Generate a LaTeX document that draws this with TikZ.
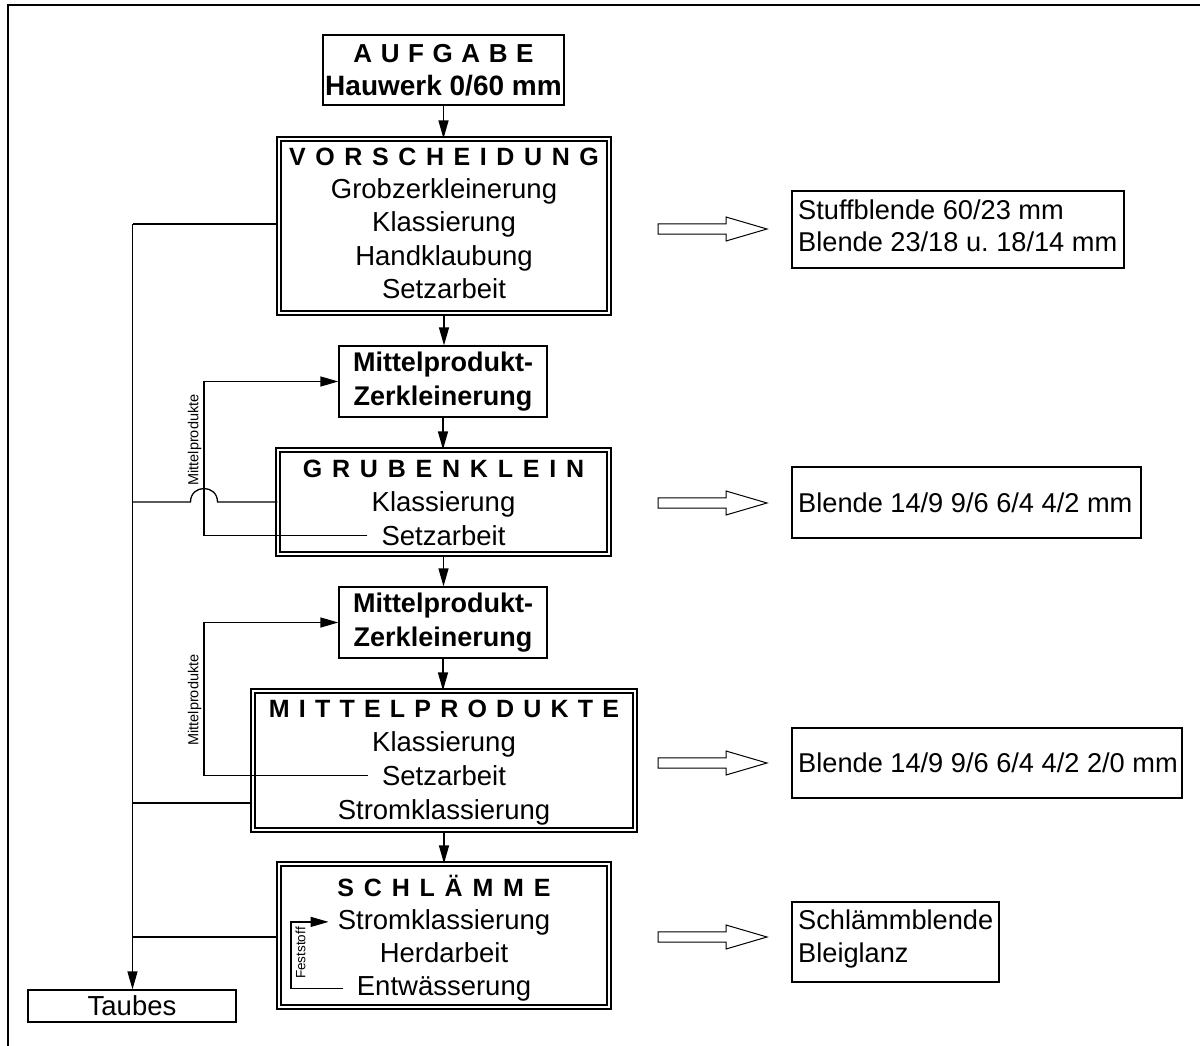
\documentclass[tikz,border=0pt]{standalone}
\usepackage{fontspec}
\setmainfont{Liberation Sans}
\usetikzlibrary{arrows.meta}
\newdimen\lspgap \lspgap=9.4pt
\def\lsp#1{\lspA#1\relax}
\def\lspA#1#2{#1\ifx\relax#2\else\kern\lspgap\expandafter\lspA\expandafter#2\fi}
\frenchspacing
\begin{document}
\begin{tikzpicture}[x=1pt,y=-1pt,
  every node/.style={inner sep=0pt},
  sbox/.style={draw, line width=1.3pt},
  dbox/.style={draw, line width=1.1pt, double, double distance=2.9pt},
  body/.style={font=\fontsize{27.5}{30}\selectfont, anchor=base},
  lbody/.style={font=\fontsize{27.2}{30}\selectfont, anchor=base west},
  title/.style={font=\fontsize{25}{28}\selectfont\bfseries, anchor=base},
  btext/.style={font=\fontsize{27}{30}\selectfont\bfseries, anchor=base},
  small/.style={font=\fontsize{14.5}{16}\selectfont, rotate=90},
  conn/.style={line width=1.3pt},
  arr/.style={conn, -{Triangle[length=18pt,width=10pt]}},
  hollow/.style={draw, line width=1pt, fill=white}]
\useasboundingbox (0,0) rectangle (1200,1046);
\draw[line width=1.5pt] (8,1046) -- (8,5) -- (1200,5);

% AUFGABE
\node[sbox, minimum width=241pt, minimum height=70pt] (auf) at (443.5,70) {};
\node[title, font=\fontsize{26}{28}\selectfont\bfseries] (aufT) at (443.5,62.3) {\lspgap=8.6pt\lsp{AUFGABE}};
\node[btext, font=\fontsize{28}{30}\selectfont\bfseries] (aufH) at (443.5,96) {Hauwerk 0/60 mm};

% VORSCHEIDUNG
\node[dbox, minimum width=330pt, minimum height=174pt] (vs) at (444,226) {};
\node[title] (vsT) at (444,165.7) {\lspgap=9.6pt\lsp{VORSCHEIDUNG}};
\node[body] (vs1) at (444,198) {Grobzerkleinerung};
\node[body] (vs2) at (444,231.7) {Klassierung};
\node[body] (vs3) at (444,265) {Handklaubung};
\node[body] (vs4) at (444,298) {Setzarbeit};

% Mittelprodukt-Zerkleinerung 1
\node[sbox, minimum width=208pt, minimum height=71pt] (mz1) at (443,381.5) {};
\node[btext] (mz1a) at (443,371.7) {Mittelprodukt-};
\node[btext] (mz1b) at (443,405) {Zerkleinerung};

% GRUBENKLEIN
\node[dbox, minimum width=331pt, minimum height=104pt] (gk) at (443.5,502) {};
\node[title] (gkT) at (443.5,477) {\lspgap=9.8pt\lsp{GRUBENKLEIN}};
\node[body] (gk1) at (443.5,511) {Klassierung};
\node[body] (gS) at (443.5,545) {Setzarbeit};

% Mittelprodukt-Zerkleinerung 2
\node[sbox, minimum width=208pt, minimum height=71pt] (mz2) at (443,622.5) {};
\node[btext] (mz2a) at (443,612.7) {Mittelprodukt-};
\node[btext] (mz2b) at (443,646) {Zerkleinerung};

% MITTELPRODUKTE
\node[dbox, minimum width=382pt, minimum height=139pt] (mp) at (444,760.5) {};
\node[title] (mpT) at (444,717.7) {\lspgap=9.2pt\lsp{MITTELPRODUKTE}};
\node[body] (mp1) at (444,751.7) {Klassierung};
\node[body] (mS) at (444,785.5) {Setzarbeit};
\node[body] (mp3) at (444,819.5) {Stromklassierung};

% SCHLAEMME
\node[dbox, minimum width=330pt, minimum height=143pt] (sc) at (444,935.5) {};
\node[title] (scT) at (444,896) {\lspgap=9.8pt\lsp{SCHLÄMME}};
\node[body] (sS) at (444,929) {Stromklassierung};
\node[body] (sc2) at (444,962) {Herdarbeit};
\node[body] (sE) at (444,995) {Entwässerung};

% Taubes
\node[sbox, minimum width=208pt, minimum height=32pt] (tb) at (132,1006) {};
\node[body] (tbT) at (132,1015.5) {Taubes};

% right boxes
\node[sbox, minimum width=332pt, minimum height=77pt] (r1) at (958,229.5) {};
\node[lbody] (r1a) at (798,219.5) {Stuffblende 60/23 mm};
\node[lbody] (r1b) at (798,251.5) {Blende 23/18 u. 18/14 mm};
\node[sbox, minimum width=349pt, minimum height=71pt] (r2) at (966.5,502.5) {};
\node[lbody] (r2a) at (798,512.5) {Blende 14/9 9/6 6/4 4/2 mm};
\node[sbox, minimum width=390pt, minimum height=70pt] (r3) at (987,763) {};
\node[lbody] (r3a) at (798,772.5) {Blende 14/9 9/6 6/4 4/2 2/0 mm};
\node[sbox, minimum width=207pt, minimum height=80pt] (r4) at (895.5,942) {};
\node[lbody] (r4a) at (798,929.5) {Schlämmblende};
\node[lbody] (r4b) at (798,962.5) {Bleiglanz};

% hollow arrows
\foreach \yy in {229,503,763,937}
  \draw[hollow] (658,\yy-5.2) -- (726,\yy-5.2) -- (726,\yy-12) -- (767,\yy)
     -- (726,\yy+12) -- (726,\yy+5.2) -- (658,\yy+5.2) -- cycle;

% main flow
\draw[arr] (auf.south) -- (auf.south |- vs.north);
\draw[arr] (vs.south) -- (vs.south |- mz1.north);
\draw[arr] (mz1.south) -- (mz1.south |- gk.north);
\draw[arr] (gk.south) -- (gk.south |- mz2.north);
\draw[arr] (mz2.south) -- (mz2.south |- mp.north);
\draw[arr] (mp.south) -- (mp.south |- sc.north);

% trunk to Taubes
\coordinate (tTop) at (132.5,224);
\coordinate (b3) at (132.5,803);
\coordinate (b4) at (132.5,937);
\coordinate (hopC) at (204,502);
\draw[conn] (vs.west |- tTop) -- (tTop);
\draw[arr] (tTop) -- (tTop |- tb.north);
\draw[conn] (tTop |- hopC) -- ([xshift=-13.5pt]hopC)
   .. controls ([xshift=-13.5pt,yshift=18pt]hopC) and ([xshift=13.5pt,yshift=18pt]hopC)
   .. ([xshift=13.5pt]hopC) -- (hopC -| gk.west);
\draw[conn] (mp.west |- b3) -- (b3);
\draw[conn] (sc.west |- b4) -- (b4);

% feedback loops
\coordinate (lpA) at (204,440);
\coordinate (lpB) at (204,700);
\coordinate (lpC) at (291,953);
\draw[arr] ([xshift=-14pt]gS.west) -| (lpA) |- (mz1.west);
\draw[arr] ([xshift=-14pt]mS.west) -| (lpB) |- (mz2.west);
\draw[arr] ([xshift=-13.5pt]sE.west) -| (lpC) |- ([xshift=-9pt]sS.west);
\node[small] (lbA) at (194.5,440) {Mittelprodukte};
\node[small] (lbB) at (194.5,700) {Mittelprodukte};
\node[small, font=\fontsize{13.5}{15}\selectfont] (lbC) at (300.5,953) {Feststoff};
\end{tikzpicture}
\end{document}
